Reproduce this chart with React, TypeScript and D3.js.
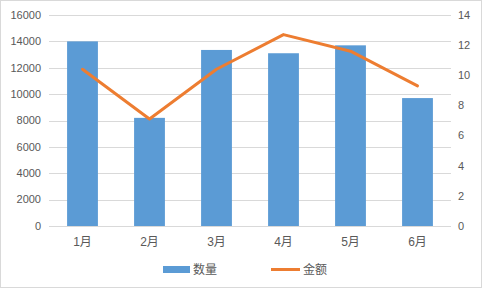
import React from "react";
import * as d3 from "d3";

const categories = ["1月", "2月", "3月", "4月", "5月", "6月"];
const quantity = [14000, 8200, 13350, 13100, 13700, 9700];
const amount = [10.4, 7.1, 10.4, 12.7, 11.6, 9.3];
const leftTicks = [0, 2000, 4000, 6000, 8000, 10000, 12000, 14000, 16000];
const rightTicks = [0, 2, 4, 6, 8, 10, 12, 14];
const seriesNames = ["数量", "金额"];

const W = 482;
const H = 289;
const FONT = "'Liberation Sans', 'Noto Sans CJK SC', sans-serif";
const TEXT = "#595959";

export default function App() {
  const x = d3.scaleBand<string>().domain(categories).range([49, 451]).paddingInner(0).paddingOuter(0);
  const yL = d3.scaleLinear().domain([0, 16000]).range([226, 15]);
  const yR = d3.scaleLinear().domain([0, 14]).range([226, 15]);
  const barW = x.bandwidth() * 0.46;
  const line = d3
    .line<number>()
    .x((_, i) => (x(categories[i]) as number) + x.bandwidth() / 2)
    .y((d) => yR(d));

  return (
    <svg width={W} height={H} style={{ position: "fixed", left: 0, top: 0 }} fontFamily={FONT}>
      <rect x={0} y={0} width={W} height={H} fill="#fff" />
      <rect x={0.5} y={0.5} width={W - 1} height={H - 2} fill="none" stroke="#D9D9D9" />
      {leftTicks.map((t) => (
        <g key={t}>
          <line x1={49} x2={451} y1={Math.round(yL(t)) + 0.5} y2={Math.round(yL(t)) + 0.5} stroke="#D9D9D9" />
          <text x={41} y={yL(t)} dy="0.35em" textAnchor="end" fontSize={11} fill={TEXT}>
            {t}
          </text>
        </g>
      ))}
      {rightTicks.map((t) => (
        <text key={t} x={458} y={yR(t)} dy="0.35em" textAnchor="start" fontSize={11} fill={TEXT}>
          {t}
        </text>
      ))}
      {quantity.map((v, i) => (
        <rect
          key={i}
          x={(x(categories[i]) as number) + (x.bandwidth() - barW) / 2}
          y={yL(v)}
          width={barW}
          height={yL(0) - yL(v)}
          fill="#5B9BD5"
        />
      ))}
      <path d={line(amount) || ""} fill="none" stroke="#ED7D31" strokeWidth={3} strokeLinejoin="round" strokeLinecap="round" />
      {categories.map((c) => (
        <text key={c} x={(x(c) as number) + x.bandwidth() / 2} y={242} dy="0.35em" textAnchor="middle" fontSize={12} fill={TEXT}>
          {c}
        </text>
      ))}
      <rect x={163} y={266} width={27} height={7} fill="#5B9BD5" />
      <text x={193} y={270} dy="0.35em" fontSize={12} fill={TEXT}>
        {seriesNames[0]}
      </text>
      <line x1={271} x2={300} y1={269.5} y2={269.5} stroke="#ED7D31" strokeWidth={3} />
      <text x={303} y={270} dy="0.35em" fontSize={12} fill={TEXT}>
        {seriesNames[1]}
      </text>
    </svg>
  );
}
